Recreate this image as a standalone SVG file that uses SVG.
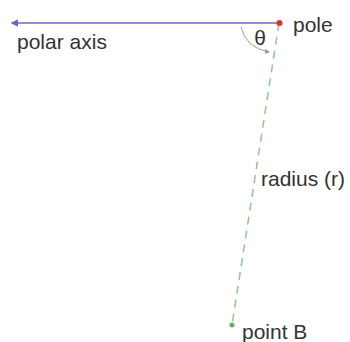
<svg xmlns="http://www.w3.org/2000/svg" width="350" height="342" viewBox="0 0 350 342">
<defs>
<marker id="ah" viewBox="0 0 10 10" refX="8" refY="5" markerWidth="5" markerHeight="5" orient="auto-start-reverse"><path d="M0,0 L10,5 L0,10 z" fill="#6a6ac4"/></marker>
<marker id="ag" viewBox="0 0 10 10" refX="8" refY="5" markerWidth="5" markerHeight="5" orient="auto"><path d="M0,0 L10,5 L0,10 z" fill="#9a9a9a"/></marker>
</defs>
<style>
text{font-family:"Liberation Sans",Arial,sans-serif;font-size:21px;fill:#333}
</style>
<rect width="350" height="342" fill="#fff"/>
<g id="connectors">
<line x1="279" y1="23" x2="12" y2="23" stroke="#6a6ac4" stroke-width="1.5" marker-end="url(#ah)"/>
<line x1="279" y1="23" x2="232" y2="325" stroke="#8cc98c" stroke-width="1.5" stroke-dasharray="8,6"/>
<path d="M241,27 Q246,48 269,52" fill="none" stroke="#9a9a9a" stroke-width="1" marker-end="url(#ag)"/>
</g>
<g id="pole"><circle cx="279.5" cy="23" r="3" fill="#e03030"/><text x="293" y="32">pole</text></g>
<g id="axis-label"><text x="17" y="49">polar axis</text></g>
<g id="theta"><text x="260" y="45" text-anchor="middle">θ</text></g>
<g id="radius-label"><text x="261" y="186">radius (r)</text></g>
<g id="pointB"><circle cx="232" cy="325" r="2.5" fill="#5cb85c"/><text x="242" y="339">point B</text></g>
</svg>
